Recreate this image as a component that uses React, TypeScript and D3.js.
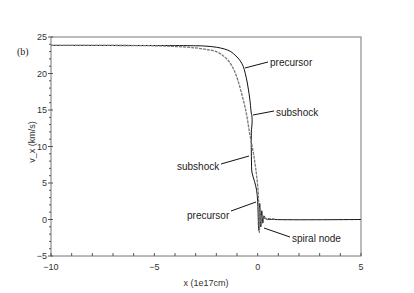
import React, { useEffect, useRef } from 'react';
import * as d3 from 'd3';

// solid curve (the right-hand one at the top)
const solidX = [-10, -3, -2.5, -2, -1.6, -1.3, -1.05, -0.86, -0.7, -0.6, -0.5, -0.42, -0.36, -0.31, -0.28, -0.27, -0.3, -0.31, -0.3, -0.28, -0.15, -0.05, 0.0, 0.02, 0.05, 0.1, 0.15, 0.2, 0.25, 0.3, 0.4, 0.8, 5];
const solidY = [23.85, 23.8, 23.75, 23.6, 23.35, 23.0, 22.4, 21.8, 21.0, 20.0, 18.7, 17.3, 16.0, 14.6, 14.2, 13.2, 12.3, 10.5, 8.0, 6.5, 5.2, 4.0, 2.5, 1.0, -1.5, 2.2, -1.0, 1.2, -0.5, 0.5, 0.1, 0, 0];

// dashed grey curve (left one at the top)
const dashX = [-10, -5, -4, -3, -2.5, -2, -1.7, -1.4, -1.15, -0.95, -0.78, -0.62, -0.5, -0.4, -0.3, -0.2, -0.12, -0.05, 0.02, 0.05, 0.08, 0.12, 0.18, 0.22, 0.3, 0.6, 0.9];
const dashY = [23.85, 23.8, 23.7, 23.5, 23.3, 23.0, 22.5, 21.7, 20.5, 19.0, 17.3, 15.5, 13.8, 12.0, 10.5, 9.0, 7.5, 6.0, 4.0, 2.0, -1.8, 1.5, -0.8, 0.6, 0.2, 0.1, 0.05];

const xTicks = [-10, -5, 0, 5];
const yTicks = [-5, 0, 5, 10, 15, 20, 25];

// annotation labels with their leader lines (pixel positions of the callouts)
const labels = [
  { text: 'precursor', tx: 270, ty: 66, lx0: 245, ly0: 68, lx1: 268, ly1: 62 },
  { text: 'subshock', tx: 276, ty: 116, lx0: 253, ly0: 115, lx1: 274, ly1: 111 },
  { text: 'subshock', tx: 177, ty: 170, lx0: 221, ly0: 164, lx1: 249, ly1: 156 },
  { text: 'precursor', tx: 187, ty: 219, lx0: 231, ly0: 211, lx1: 256, ly1: 202 },
  { text: 'spiral node', tx: 292, ty: 242, lx0: 264, ly0: 228, lx1: 290, ly1: 237 },
];

export default function App() {
  const svgRef = useRef<SVGSVGElement>(null);
  const W = 414;
  const H = 293;
  const M = { top: 37, right: 53, bottom: 37, left: 51 };

  useEffect(() => {
    const svg = d3.select(svgRef.current);
    svg.selectAll('*').remove();
    const font = '"Liberation Sans", Arial, sans-serif';

    const x = d3.scaleLinear().domain([-10, 5]).range([M.left, W - M.right]);
    const y = d3.scaleLinear().domain([-5, 25]).range([H - M.bottom, M.top]);

    const axisColor = '#555';

    // frame
    svg.append('rect')
      .attr('x', x(-10)).attr('y', y(25))
      .attr('width', x(5) - x(-10)).attr('height', y(-5) - y(25))
      .attr('fill', 'none').attr('stroke', '#777').attr('stroke-width', 1);

    // y ticks
    d3.range(-5, 26, 1).forEach(v => {
      const major = v % 5 === 0;
      svg.append('line')
        .attr('x1', x(-10) - (major ? 3 : 2)).attr('x2', x(-10) + (major ? 2 : 0))
        .attr('y1', y(v)).attr('y2', y(v))
        .attr('stroke', axisColor).attr('stroke-width', 1);
    });
    yTicks.forEach(v => {
      svg.append('text')
        .attr('x', x(-10) - 4).attr('y', y(v) + 3)
        .attr('text-anchor', 'end')
        .style('font-family', font).style('font-size', '9px').style('fill', '#333')
        .text(v < 0 ? '\u2212' + Math.abs(v) : String(v));
    });

    // x ticks
    d3.range(-10, 6, 1).forEach(v => {
      svg.append('line')
        .attr('x1', x(v)).attr('x2', x(v))
        .attr('y1', y(-5)).attr('y2', y(-5) - 3)
        .attr('stroke', axisColor).attr('stroke-width', 1);
    });
    xTicks.forEach(v => {
      svg.append('text')
        .attr('x', x(v)).attr('y', y(-5) + 14)
        .attr('text-anchor', 'middle')
        .style('font-family', font).style('font-size', '9px').style('fill', '#333')
        .text(v < 0 ? '\u2212' + Math.abs(v) : String(v));
    });

    const line = d3.line<[number, number]>()
      .x(d => x(d[0])).y(d => y(d[1]))
      .curve(d3.curveCatmullRom.alpha(0.5));

    svg.append('path')
      .datum(solidX.map((v, i) => [v, solidY[i]] as [number, number]))
      .attr('d', line)
      .attr('fill', 'none').attr('stroke', '#111').attr('stroke-width', 1);

    svg.append('path')
      .datum(dashX.map((v, i) => [v, dashY[i]] as [number, number]))
      .attr('d', line)
      .attr('fill', 'none').attr('stroke', '#777').attr('stroke-width', 1.3)
      .attr('stroke-dasharray', '3,1');

    // annotations
    labels.forEach(l => {
      svg.append('line')
        .attr('x1', l.lx0).attr('y1', l.ly0).attr('x2', l.lx1).attr('y2', l.ly1)
        .attr('stroke', '#111').attr('stroke-width', 1);
      svg.append('text')
        .attr('x', l.tx).attr('y', l.ty)
        .style('font-family', font).style('font-size', '10px').style('fill', '#222')
        .text(l.text);
    });

    svg.append('text')
      .attr('x', 17).attr('y', 55)
      .style('font-family', '"Liberation Serif", serif').style('font-size', '10px').style('fill', '#222')
      .text('(b)');

    svg.append('text')
      .attr('transform', `translate(35,142) rotate(-90)`)
      .attr('text-anchor', 'middle')
      .style('font-family', font).style('font-size', '9px').style('fill', '#333')
      .text('v_x (km/s)');

    svg.append('text')
      .attr('x', (x(-10) + x(5)) / 2).attr('y', 286)
      .attr('text-anchor', 'middle')
      .style('font-family', font).style('font-size', '9px').style('fill', '#333')
      .text('x (1e17cm)');
  }, []);

  return (
    <svg ref={svgRef} width={W} height={H}
      style={{ position: 'absolute', left: 0, top: 0, background: '#fff' }} />
  );
}
